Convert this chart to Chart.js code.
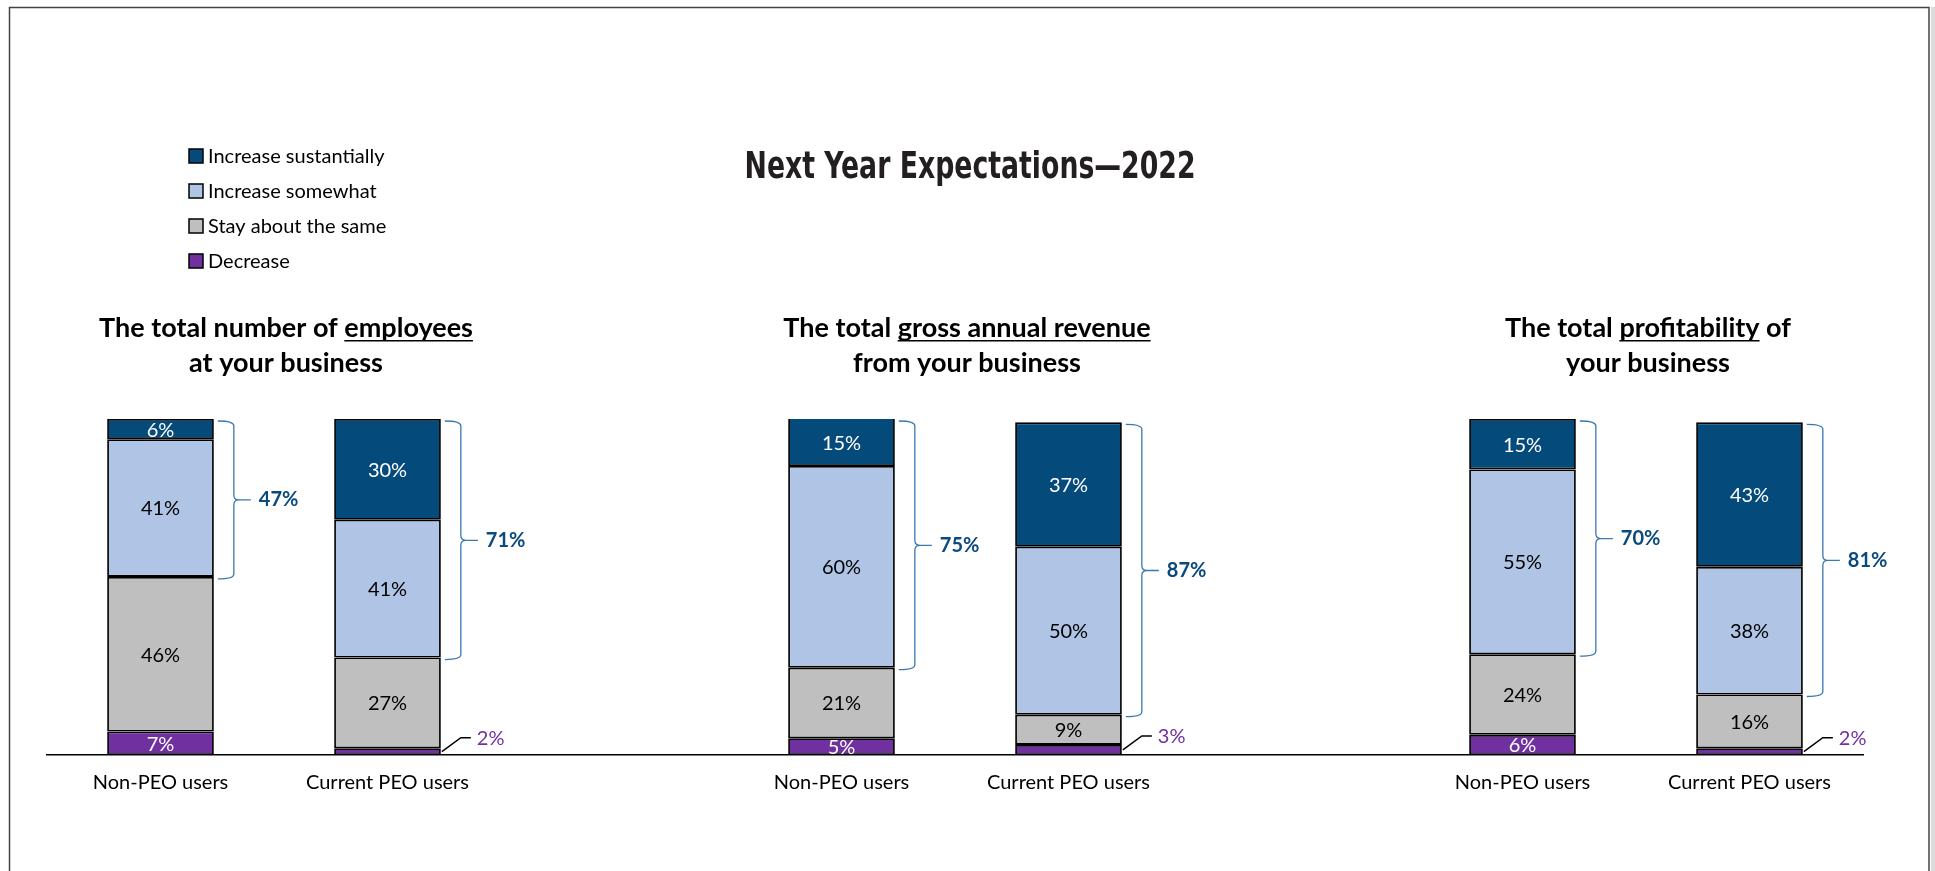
<!DOCTYPE html>
<html>
<head>
<meta charset="utf-8">
<title>Next Year Expectations—2022</title>
<script src="https://cdn.jsdelivr.net/npm/chart.js@4.4.1/dist/chart.umd.min.js"></script>
<style>
  html, body { margin: 0; padding: 0; background: #fff; }
  #wrap { width: 1935px; height: 871px; position: relative; }
</style>
</head>
<body>
<div id="wrap"><canvas id="expChart"></canvas></div>
<script>
// data (empty slots are the gaps between the three panels)
const categories = ['Non-PEO users', 'Current PEO users', '', 'Non-PEO users', 'Current PEO users', '', 'Non-PEO users', 'Current PEO users'];
const increaseSubstantially = [6, 30, null, 15, 37, null, 15, 43];
const increaseSomewhat = [41, 41, null, 60, 50, null, 55, 38];
const staySame = [46, 27, null, 21, 9, null, 24, 16];
const decrease = [7, 2, null, 5, 3, null, 6, 2];
const increaseTotals = [47, 71, null, 75, 87, null, 70, 81];
const seriesNames = ['Increase sustantially', 'Increase somewhat', 'Stay about the same', 'Decrease'];
const chartTitle = 'Next Year Expectations—2022';
// [word] = underlined
const panelTitles = [
  ['The total number of [employees]', 'at your business'],
  ['The total [gross annual revenue]', 'from your business'],
  ['The total [profitability] of', 'your business']
];
const panelColumns = [[0, 1], [3, 4], [6, 7]];

const FONT = 'Lato, "Open Sans", sans-serif';
const TITLE_FONT = '"Liberation Sans Narrow", "DejaVu Sans Condensed", "Arial Narrow", sans-serif';
const colors = {
  subst: '#044B7C',
  somewhat: '#B0C4E5',
  same: '#BFBFBF',
  decrease: '#7030A0',
  bracket: '#3A78B0',
  total: '#0B4A7D'
};

// stacked bottom to top
const datasets = [
  { label: seriesNames[3], data: decrease, backgroundColor: colors.decrease, textColor: '#fff' },
  { label: seriesNames[2], data: staySame, backgroundColor: colors.same, textColor: '#000' },
  { label: seriesNames[1], data: increaseSomewhat, backgroundColor: colors.somewhat, textColor: '#000' },
  { label: seriesNames[0], data: increaseSubstantially, backgroundColor: colors.subst, textColor: '#fff' }
];
datasets.forEach(ds => {
  ds.borderColor = '#000';
  ds.borderWidth = 1.8;
  ds.borderSkipped = false;
  ds.barPercentage = 0.47;
  ds.categoryPercentage = 1;
  ds.clip = { left: false, right: false, top: 0, bottom: false };
});

// page frame + background
const framePlugin = {
  id: 'frame',
  beforeDraw(chart) {
    const ctx = chart.ctx;
    ctx.save();
    ctx.fillStyle = '#fff';
    ctx.fillRect(0, 0, chart.width, chart.height);
    ctx.fillStyle = '#dcdcdc';
    ctx.fillRect(1931, 7, 4, chart.height);
    ctx.strokeStyle = '#444';
    ctx.lineWidth = 1.5;
    ctx.strokeRect(9.5, 7.5, 1919.5, 900);
    ctx.restore();
  }
};

// title, legend and panel headings
const headerPlugin = {
  id: 'header',
  afterDraw(chart) {
    const ctx = chart.ctx;
    const xs = chart.scales.x;
    ctx.save();
    // condensed heading: squeeze the bold face to the original width
    ctx.fillStyle = '#231F20';
    ctx.font = `bold 38px ${TITLE_FONT}`;
    ctx.textAlign = 'center';
    ctx.textBaseline = 'middle';
    const squeeze = Math.min(1, 451 / ctx.measureText(chartTitle).width);
    ctx.save();
    ctx.translate(970, 168);
    ctx.scale(squeeze, 1);
    ctx.fillText(chartTitle, 0, 0);
    ctx.restore();

    // legend
    ctx.font = `20px ${FONT}`;
    ctx.textAlign = 'left';
    [3, 2, 1, 0].forEach((di, k) => {
      const y = 156 + k * 35;
      ctx.fillStyle = datasets[di].backgroundColor;
      ctx.fillRect(189, y - 7, 14, 14);
      ctx.strokeStyle = '#000';
      ctx.lineWidth = 1.5;
      ctx.strokeRect(189, y - 7, 14, 14);
      ctx.fillStyle = '#000';
      ctx.fillText(datasets[di].label, 208, y + 1);
    });

    // panel headings
    ctx.font = `bold 27px ${FONT}`;
    ctx.fillStyle = '#000';
    panelTitles.forEach((lines, p) => {
      const cols = panelColumns[p];
      const cx = (xs.getPixelForValue(cols[0]) + xs.getPixelForValue(cols[1])) / 2 + 12;
      lines.forEach((line, l) => drawRich(ctx, line, cx, 328 + l * 35));
    });
    ctx.restore();
  }
};

function drawRich(ctx, line, cx, y) {
  const parts = line.split(/(\[[^\]]*\])/).filter(Boolean)
    .map(p => p.startsWith('[') ? { t: p.slice(1, -1), u: true } : { t: p, u: false });
  const total = parts.reduce((s, p) => s + ctx.measureText(p.t).width, 0);
  let x = cx - total / 2;
  ctx.textAlign = 'left';
  parts.forEach(p => {
    const w = ctx.measureText(p.t).width;
    ctx.fillText(p.t, x, y);
    if (p.u) ctx.fillRect(x, y + 12, w, 1.5);
    x += w;
  });
}

// value labels on the segments, small ones get a leader line
const segmentLabels = {
  id: 'segmentLabels',
  afterDatasetsDraw(chart) {
    const ctx = chart.ctx;
    const area = chart.chartArea;
    ctx.save();
    ctx.font = `20px ${FONT}`;
    ctx.textBaseline = 'middle';
    chart.data.datasets.forEach((ds, di) => {
      chart.getDatasetMeta(di).data.forEach((bar, i) => {
        const v = ds.data[i];
        if (v == null) return;
        const top = Math.max(bar.y, area.top);
        const cy = (top + bar.base) / 2;
        if (v >= 5) {
          ctx.fillStyle = ds.textColor;
          ctx.textAlign = 'center';
          ctx.fillText(v + '%', bar.x, cy + 1);
        } else {
          const right = bar.x + bar.width / 2;
          ctx.strokeStyle = '#000';
          ctx.lineWidth = 1.5;
          ctx.beginPath();
          ctx.moveTo(right + 1, cy);
          ctx.lineTo(right + 20, cy - 14);
          ctx.lineTo(right + 30, cy - 14);
          ctx.stroke();
          ctx.fillStyle = colors.decrease;
          ctx.textAlign = 'left';
          ctx.fillText(v + '%', right + 36, cy - 13);
        }
      });
    });
    ctx.restore();
  }
};

// curly brackets over the two "increase" segments
const bracketPlugin = {
  id: 'brackets',
  afterDatasetsDraw(chart) {
    const ctx = chart.ctx;
    const area = chart.chartArea;
    const topMeta = chart.getDatasetMeta(3);
    const midMeta = chart.getDatasetMeta(2);
    ctx.save();
    increaseTotals.forEach((tot, i) => {
      if (tot == null) return;
      const a = topMeta.data[i], b = midMeta.data[i];
      const right = a.x + a.width / 2;
      const y0 = Math.max(a.y, area.top) + 2;
      const y1 = b.base + 2;
      const mid = (y0 + y1) / 2;
      const x0 = right + 4, x1 = right + 20, tip = right + 37, r = 5;
      ctx.strokeStyle = colors.bracket;
      ctx.lineWidth = 1.3;
      ctx.beginPath();
      ctx.moveTo(x0, y0);
      ctx.quadraticCurveTo(x1, y0, x1, y0 + r);
      ctx.lineTo(x1, mid - r);
      ctx.quadraticCurveTo(x1, mid, x1 + r, mid);
      ctx.lineTo(tip, mid);
      ctx.moveTo(x1 + r, mid);
      ctx.quadraticCurveTo(x1, mid, x1, mid + r);
      ctx.lineTo(x1, y1 - r);
      ctx.quadraticCurveTo(x1, y1, x0, y1);
      ctx.stroke();
      ctx.fillStyle = colors.total;
      ctx.font = `bold 20px ${FONT}`;
      ctx.textAlign = 'left';
      ctx.textBaseline = 'middle';
      ctx.fillText(tot + '%', right + 45, mid);
    });
    ctx.restore();
  }
};

new Chart(document.getElementById('expChart'), {
  type: 'bar',
  data: { labels: categories, datasets: datasets },
  options: {
    responsive: true,
    maintainAspectRatio: false,
    animation: false,
    layout: { padding: { left: 47, right: 72, top: 419, bottom: 0 } },
    plugins: {
      legend: { display: false },
      title: { display: false },
      tooltip: { enabled: false }
    },
    scales: {
      x: {
        stacked: true,
        offset: true,
        grid: { display: false, drawTicks: false },
        border: { display: true, color: '#000', width: 1.5 },
        ticks: {
          color: '#000',
          font: { family: FONT, size: 20 },
          padding: 16,
          autoSkip: false,
          maxRotation: 0
        },
        afterFit(scale) { scale.height = 116; }
      },
      y: {
        stacked: true,
        min: 0,
        max: 100,
        display: false
      }
    }
  },
  plugins: [framePlugin, headerPlugin, segmentLabels, bracketPlugin]
});
</script>
</body>
</html>
